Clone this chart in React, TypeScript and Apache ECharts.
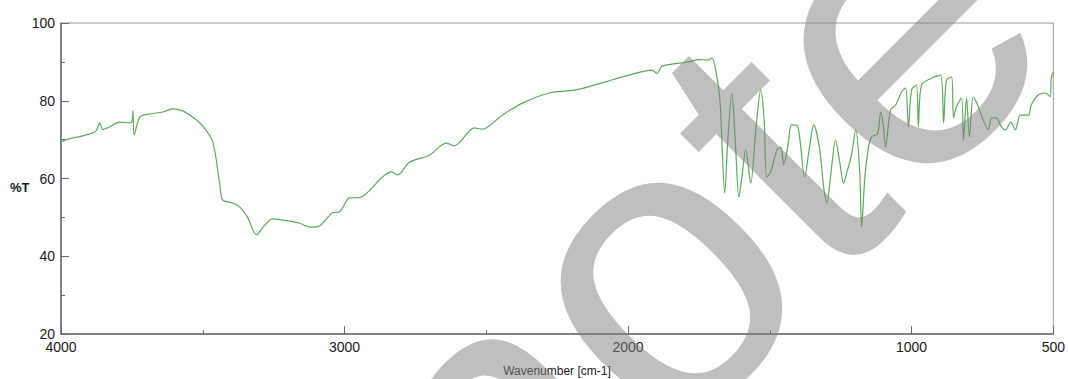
import React, { useEffect, useRef } from "react";
import * as echarts from "echarts";

const wavenumbers = [
  4000, 3972, 3937, 3902, 3877, 3863, 3853, 3828, 3793, 3757, 3749, 3746, 3742, 3722, 3687, 3641, 3606,
  3571, 3536, 3500, 3465, 3440, 3430, 3394, 3370, 3342, 3310, 3289, 3254, 3218, 3158, 3123, 3088, 3042,
  3018, 2982, 2947, 2866, 2835, 2813, 2771, 2701, 2641, 2613, 2542, 2514, 2444, 2373, 2278, 2183, 2092,
  1997, 1916, 1898, 1880, 1785, 1750, 1715, 1704, 1690, 1676, 1659, 1648, 1634, 1622, 1609, 1599, 1585,
  1567, 1550, 1532, 1520, 1511, 1497, 1475, 1461, 1451, 1437, 1423, 1402, 1377, 1360, 1345, 1325, 1310,
  1299, 1285, 1268, 1253, 1240, 1229, 1212, 1197, 1183, 1176, 1165, 1152, 1141, 1120, 1109, 1100, 1092,
  1074, 1055, 1035, 1021, 1011, 1000, 983, 976, 965, 930, 898, 887, 877, 859, 852, 842, 824, 817, 806,
  796, 782, 764, 754, 729, 718, 701, 683, 669, 650, 634, 616, 588, 578, 553, 528, 511, 507, 500,
];

const transmittance = [
  69.4, 70.2, 70.7, 71.4, 72.2, 74.3, 72.6, 73.3, 74.5, 74.3, 74.8, 77.5, 71.2, 75.8, 76.6, 77.1, 77.9,
  77.4, 75.8, 73.5, 69.5, 58.5, 54.5, 53.7, 52.7, 50.0, 45.5, 47.3, 49.6, 49.3, 48.5, 47.5, 47.8, 51.2,
  51.4, 55.0, 55.1, 60.4, 61.7, 60.9, 64.2, 66.0, 69.1, 68.4, 73.0, 72.7, 76.3, 79.4, 82.0, 82.8, 84.6,
  86.6, 87.9, 87.0, 88.9, 90.0, 90.6, 90.5, 91.0, 87.5, 80.2, 56.3, 70.0, 82.0, 70.0, 55.2, 60.0, 67.3,
  58.8, 72.0, 82.8, 75.0, 60.4, 61.7, 67.3, 68.0, 63.5, 68.0, 73.8, 73.5, 60.4, 68.0, 73.8, 68.0, 57.8,
  53.7, 61.0, 69.9, 64.0, 58.8, 61.4, 66.0, 72.5, 62.0, 47.5, 60.0, 68.0, 70.7, 71.5, 77.1, 74.0, 68.0,
  77.6, 79.0, 82.3, 83.3, 73.3, 82.8, 84.0, 73.3, 84.0, 85.8, 86.6, 74.3, 85.3, 86.1, 75.6, 78.4, 80.7,
  69.9, 80.7, 70.7, 81.0, 78.4, 76.3, 72.5, 75.6, 75.6, 73.3, 72.5, 74.5, 72.5, 76.3, 76.3, 78.9, 81.5,
  82.0, 81.0, 86.0, 87.4,
];

const xMajorTicks = [4000, 3000, 2000, 1000, 500];
const xMinorTicks = [3500, 2500, 1500];
const yMajorTicks = [20, 40, 60, 80, 100];
const yMinorTicks = [30, 50, 70, 90];

const xTitle = "Wavenumber [cm-1]";
const yTitle = "%T";
const watermark = "note";

export default function App() {
  const ref = useRef<HTMLDivElement>(null);

  useEffect(() => {
    document.body.style.margin = "0";
    const chart = echarts.init(ref.current!, null, { renderer: "svg" });
    const font = "'Liberation Sans', Arial, Helvetica, sans-serif";
    const data = wavenumbers.map((w, i) => [w, transmittance[i]]);
    const axisColor = "#6a6a6a";
    const fmt = (v: number) => String(v);

    chart.setOption({
      animation: false,
      backgroundColor: "#ffffff",
      grid: {
        left: 61,
        right: 13,
        top: 23,
        bottom: 45,
        show: true,
        borderColor: "#9a9a9a",
        borderWidth: 1,
        backgroundColor: "transparent",
      },
      xAxis: [
        {
          type: "value",
          min: 500,
          max: 4000,
          inverse: true,
          position: "bottom",
          axisLine: { show: true, lineStyle: { color: axisColor, width: 1.5 } },
          axisTick: {
            show: true,
            inside: true,
            length: 8,
            customValues: xMajorTicks,
            lineStyle: { color: axisColor, width: 1 },
          },
          axisLabel: {
            customValues: xMajorTicks,
            formatter: fmt,
            fontSize: 14,
            color: "#1a1a1a",
            fontFamily: font,
            margin: 6,
          },
          splitLine: { show: false },
        },
        {
          type: "value",
          min: 500,
          max: 4000,
          inverse: true,
          position: "bottom",
          axisLine: { show: false },
          axisTick: {
            show: true,
            inside: true,
            length: 4,
            customValues: xMinorTicks,
            lineStyle: { color: axisColor, width: 1 },
          },
          axisLabel: { show: false },
          splitLine: { show: false },
        },
      ],
      yAxis: [
        {
          type: "value",
          min: 20,
          max: 100,
          position: "left",
          axisLine: { show: true, lineStyle: { color: axisColor, width: 1.5 } },
          axisTick: {
            show: true,
            inside: true,
            length: 8,
            customValues: yMajorTicks,
            lineStyle: { color: axisColor, width: 1 },
          },
          axisLabel: {
            customValues: yMajorTicks,
            formatter: fmt,
            fontSize: 14,
            color: "#1a1a1a",
            fontFamily: font,
            margin: 6,
          },
          splitLine: { show: false },
        },
        {
          type: "value",
          min: 20,
          max: 100,
          position: "left",
          axisLine: { show: false },
          axisTick: {
            show: true,
            inside: true,
            length: 4,
            customValues: yMinorTicks,
            lineStyle: { color: axisColor, width: 1 },
          },
          axisLabel: { show: false },
          splitLine: { show: false },
        },
      ],
      series: [
        {
          type: "line",
          xAxisIndex: 0,
          yAxisIndex: 0,
          data,
          showSymbol: false,
          symbol: "none",
          smooth: 0.3,
          lineStyle: { color: "#55ae55", width: 1.2 },
          clip: true,
          z: 2,
        },
      ],
      graphic: [
        {
          type: "text",
          left: 10,
          top: 181,
          style: { text: yTitle, fontSize: 13, fontFamily: font, fill: "#1a1a1a", fontWeight: "bold" },
        },
        {
          type: "text",
          x: 557,
          y: 371,
          style: {
            text: xTitle,
            fontSize: 12,
            fontFamily: font,
            fill: "#1a1a1a",
            align: "center",
            verticalAlign: "middle",
          },
        },
        {
          type: "text",
          x: 406,
          y: 513,
          rotation: Math.PI / 4,
          z: 100,
          silent: true,
          style: {
            text: watermark,
            fontSize: 410,
            fontFamily: font,
            fill: "#808080",
            opacity: 0.5,
            align: "left",
            verticalAlign: "middle",
          },
        },
      ],
    });

    return () => chart.dispose();
  }, []);

  return <div ref={ref} style={{ width: 1068, height: 379 }} />;
}
